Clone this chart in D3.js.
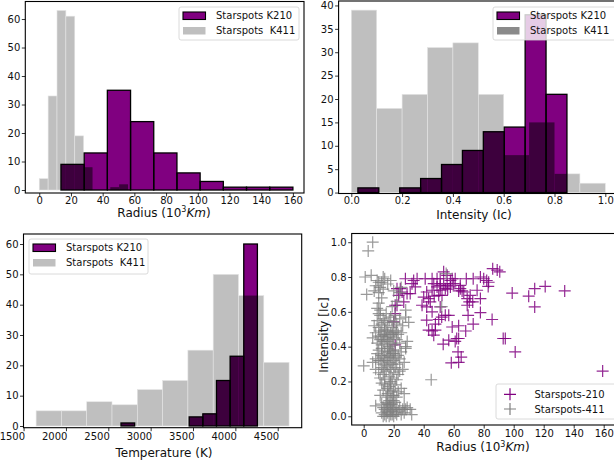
<!DOCTYPE html>
<html><head><meta charset="utf-8">
<script src="https://cdn.jsdelivr.net/npm/d3@7"></script>
<style>
body{margin:0;background:#fff;overflow:hidden}
text{font-family:"DejaVu Sans",sans-serif;fill:#111}
</style>
</head><body>
<svg id="c" width="614" height="463"></svg>
<script>
// ---------------- data ----------------
const k210RadiusRange = [13.7, 160];
const k210RadiusCounts = [9, 13, 35, 24, 13, 6, 3, 1, 1, 1];
const k411RadiusRange = [0, 56];
const k411RadiusCounts = [4, 33, 63, 61, 19, 8, 0, 0, 1, 2];

const k210IntensityRange = [0.026, 0.849];
const k210IntensityCounts = [1, 0, 1, 3, 6, 9, 13, 14, 38, 21];
const k411IntensityRange = [0, 1.0];
const k411IntensityCounts = [39, 18, 21, 31, 32, 21, 8, 15, 4, 2];

const k210TempRange = [2650, 4260];
const k210TempCounts = [1, 0, 0, 0, 0, 3, 4, 15, 23, 60];
const k411TempRange = [1648, 4634];
const k411TempCounts = [5, 5, 8, 7, 12, 15, 25, 50, 43, 21];

const radiusTicks = [0, 20, 40, 60, 80, 100, 120, 140, 160];
const countTicks60 = [0, 10, 20, 30, 40, 50, 60];
const countTicks40 = [0, 5, 10, 15, 20, 25, 30, 35, 40];
const intensityTicks = [0.0, 0.2, 0.4, 0.6, 0.8, 1.0];
const tempTicks = [1500, 2000, 2500, 3000, 3500, 4000, 4500];

const histLegendLabels = ["Starspots K210", "Starspots  K411"];
const scatterLegendLabels = ["Starspots-210", "Starspots-411"];

// scatter points [radius (10^3 km), intensity]
const k210Points = [
 [159.3,0.26],[134,0.72],[121,0.746],[114,0.733],[110,0.69],[114,0.628],[99,0.708],[101,0.37],
 [94.4,0.447],[93,0.447],[90.7,0.83],[89,0.84],[86,0.848],[85.6,0.556],[83,0.746],[82,0.78],
 [80,0.79],[77.8,0.8],[77.8,0.676],[77.8,0.596],[73,0.79],[72.7,0.657],[70.4,0.657],[73,0.53],
 [68.4,0.79],[69.6,0.58],[68,0.49],[69,0.676],[65.6,0.72],[64.4,0.733],[63.3,0.72],[63.3,0.52],
 [62,0.447],[63.3,0.447],[65,0.34],[63.3,0.31],[62.9,0.37],[61,0.79],[59,0.79],[61,0.43],
 [58.4,0.307],[56.7,0.437],[53,0.414],[56.7,0.58],[54.4,0.58],[52,0.57],[50,0.556],[47.8,0.53],
 [45.6,0.49],[46.7,0.466],[47.8,0.495],[43.3,0.495],[53.3,0.83],[55.6,0.81],[51,0.79],[53.3,0.762],
 [55.6,0.752],[57.8,0.743],[51,0.752],[48.9,0.743],[46.7,0.762],[45.6,0.724],[42,0.714],[40,0.685],
 [41,0.79],[45.6,0.79],[43.3,0.676],[44.4,0.657],[38.9,0.638],[42,0.628],[45.6,0.6],[51,0.628],
 [51,0.724],[54.4,0.733],[52.2,0.695],[34.4,0.743],[33.3,0.78],[31,0.705],[28.9,0.705],[32.2,0.762],
 [27.8,0.79],[24.4,0.733],[22.2,0.733],[23.3,0.695],[22.2,0.638],[21,0.638],[21,0.59],[25.6,0.714],
 [26.7,0.657],[20,0.542],[21,0.41],[35.6,0.79],[64.4,0.752],[66.7,0.714],[60,0.762],[69,0.638],
 [50,0.695],[48.9,0.79],[57.8,0.78],[42,0.552],[59,0.513],[83.3,0.77],[75.6,0.724],[71,0.695],
 [47,0.69],[56,0.73]
];
const k411Points = [
 [13,0.00],[14,0.01],[15,0.00],[16,0.02],[17,0.00],[18,0.01],[19,0.03],[20,0.00],[21,0.02],[14,0.04],
 [15,0.03],[16,0.05],[17,0.06],[18,0.04],[19,0.07],[20,0.05],[22,0.04],[23,0.03],[24,0.05],[26,0.04],
 [27,0.02],[28,0.04],[29,0.05],[31,0.04],[32,0.01],[8,0.06],[12,0.02],[13,0.05],[15,0.08],[17,0.09],
 [18,0.07],[21,0.08],[20,0.09],[16,0.07],[12,0.07],[22,0.01],[25,0.01],[27,0.06],[19,0.01],
 [11,0.12],[13,0.15],[14,0.18],[15,0.11],[16,0.13],[17,0.17],[18,0.19],[19,0.12],[20,0.15],[21,0.18],
 [22,0.11],[23,0.14],[25,0.16],[12,0.19],[16,0.16],[18,0.14],[20,0.12],[27,0.13],
 [0,0.29],[45,0.21],[8,0.27],[10,0.25],[11,0.22],[12,0.28],[13,0.24],[14,0.21],[15,0.26],[16,0.29],
 [17,0.23],[18,0.27],[19,0.22],[20,0.25],[21,0.28],[22,0.21],[23,0.24],[24,0.26],[26,0.27],[14,0.27],[18,0.20],
 [6,0.31],[8,0.33],[9,0.36],[10,0.38],[11,0.32],[12,0.35],[13,0.30],[14,0.37],[15,0.33],[16,0.39],
 [17,0.31],[18,0.34],[19,0.36],[20,0.32],[21,0.38],[22,0.30],[23,0.35],[24,0.33],[25,0.37],[27,0.31],
 [28,0.39],[12,0.39],[14,0.32],[16,0.35],[18,0.38],[20,0.36],[13,0.34],[17,0.37],[19,0.30],[21,0.34],[10,0.32],
 [6,0.45],[8,0.48],[9,0.42],[10,0.46],[11,0.49],[12,0.41],[13,0.47],[14,0.44],[15,0.49],[16,0.43],
 [17,0.46],[18,0.48],[19,0.41],[20,0.45],[21,0.49],[22,0.44],[23,0.47],[24,0.42],[25,0.48],[28,0.40],
 [29,0.43],[12,0.46],[14,0.49],[16,0.47],[18,0.42],[20,0.48],[22,0.49],[13,0.43],[15,0.45],[17,0.40],[19,0.47],[11,0.44],
 [7,0.52],[9,0.55],[10,0.51],[11,0.58],[12,0.53],[13,0.56],[14,0.50],[15,0.59],[16,0.52],[17,0.55],
 [18,0.57],[19,0.51],[20,0.54],[21,0.58],[22,0.53],[24,0.56],[26,0.52],[30,0.54],[28,0.57],[10,0.59],[14,0.54],
 [9,0.62],[10,0.65],[11,0.61],[12,0.68],[22,0.66],[28,0.61],[52,0.63],[19,0.63],
 [2,0.70],[7,0.72],[8,0.75],[9,0.78],[10,0.71],[11,0.74],[12,0.77],[13,0.73],[14,0.79],[16,0.76],
 [18,0.78],[20,0.72],[25,0.74],[24,0.71],[10,0.77],
 [1,0.80],[5,0.81],[13,0.80],[55,0.82],
 [3,0.95],[6,1.0]
];

// ---------------- drawing ----------------
const k210Color = "#800080", k411Color = "#bfbfbf", overlapColor = "#3d003d";
const svg = d3.select("#c");
const defs = svg.append("defs");

function styleAxis(g){
  g.select(".domain").remove();
  g.selectAll(".tick line").attr("stroke","#000").attr("stroke-width",0.8);
  g.selectAll(".tick text").attr("font-size",10).attr("fill","#111");
}

function makeBins(counts, range){
  const w = (range[1]-range[0])/counts.length;
  return counts.map((c,i)=>({x0:range[0]+i*w, x1:range[0]+(i+1)*w, c:c}));
}

function frame(p){
  svg.append("rect").attr("x",p.left).attr("y",p.top)
    .attr("width",p.right-p.left).attr("height",p.bottom-p.top)
    .attr("fill","none").attr("stroke","#000").attr("stroke-width",1.1);
}

function xLabel(g, x, y, parts){
  const t = g.append("text").attr("x",x).attr("y",y).attr("text-anchor","middle").attr("font-size",12);
  parts.forEach(pt=>{
    const s = t.append("tspan").text(pt.t);
    if(pt.sup) s.attr("font-size",8).attr("dy",-4.5);
    if(pt.after) s.attr("dy",4.5);
    if(pt.it) s.attr("font-style","italic");
  });
}

function histPanel(p){
  const x = d3.scaleLinear().domain(p.xDomain).range([p.left,p.right]);
  const y = d3.scaleLinear().domain(p.yDomain).range([p.bottom,p.top]);
  const pc = "pc"+p.id, oc = "oc"+p.id;
  defs.append("clipPath").attr("id",pc).append("rect")
    .attr("x",p.left).attr("y",p.top).attr("width",p.right-p.left).attr("height",p.bottom-p.top);
  const b210 = makeBins(p.c210, p.r210), b411 = makeBins(p.c411, p.r411);
  const plot = svg.append("g").attr("clip-path",`url(#${pc})`);
  const rx = d=>x(d.x0), rw = d=>x(d.x1)-x(d.x0), ry = d=>y(d.c), rh = d=>y(0)-y(d.c);
  plot.append("g").selectAll("rect").data(b411).join("rect")
    .attr("x",rx).attr("width",rw).attr("y",ry).attr("height",rh)
    .attr("fill",k411Color).attr("stroke","#e4e4e4").attr("stroke-width",0.6);
  plot.append("g").selectAll("rect").data(b210).join("rect")
    .attr("x",rx).attr("width",rw).attr("y",ry).attr("height",rh)
    .attr("fill",k210Color);
  defs.append("clipPath").attr("id",oc).selectAll("rect").data(b210).join("rect")
    .attr("x",rx).attr("width",rw).attr("y",ry).attr("height",rh);
  plot.append("g").attr("clip-path",`url(#${oc})`).selectAll("rect").data(b411).join("rect")
    .attr("x",rx).attr("width",rw).attr("y",ry).attr("height",rh).attr("fill",overlapColor);
  plot.append("g").selectAll("rect").data(b210).join("rect")
    .attr("x",rx).attr("width",rw).attr("y",ry).attr("height",rh)
    .attr("fill","none").attr("stroke","#000").attr("stroke-width",1.3);
  frame(p);
  const gx = svg.append("g").attr("transform",`translate(0,${p.bottom})`)
    .call(d3.axisBottom(x).tickValues(p.xTicks).tickSize(3.5).tickPadding(p.xPad).tickFormat(p.xFmt));
  styleAxis(gx);
  if(p.xAlignRight) gx.selectAll(".tick text").attr("text-anchor","end").attr("dx",1);
  const gy = svg.append("g").attr("transform",`translate(${p.left},0)`)
    .call(d3.axisLeft(y).tickValues(p.yTicks).tickSize(3.5).tickPadding(1.5));
  styleAxis(gy);
  xLabel(svg, p.xLabelX, p.xLabelY, p.xLabelParts);
  // legend
  const L = p.legend;
  const lg = svg.append("g");
  lg.append("rect").attr("x",L.x).attr("y",L.y).attr("width",L.w).attr("height",L.h).attr("rx",2)
    .attr("fill","#fff").attr("fill-opacity",0.8).attr("stroke","#d0d0d0").attr("stroke-width",0.8);
  const fills = [k210Color, L.k411Patch];
  histLegendLabels.forEach((lab,i)=>{
    const yy = L.y + 8.5 + i*15;
    lg.append("rect").attr("x",L.x+4).attr("y",yy-3.5).attr("width",22.5).attr("height",7.5)
      .attr("fill",fills[i]).attr("stroke",i===0?"#000":"none").attr("stroke-width",1.1);
    lg.append("text").attr("x",L.x+37).attr("y",yy+3.8).attr("font-size",10).style("white-space","pre").text(lab);
  });
}

const radiusLabel = [{t:"Radius (10"},{t:"3",sup:true},{t:"Km",it:true,after:true},{t:")"}];

histPanel({id:1, left:25.3, right:304, top:1.5, bottom:193,
  xDomain:[-8.8,167], yDomain:[-1.05,66.15],
  r210:k210RadiusRange, c210:k210RadiusCounts, r411:k411RadiusRange, c411:k411RadiusCounts,
  xTicks:radiusTicks, yTicks:countTicks60, xFmt:d3.format("d"), xPad:0,
  xLabelX:164, xLabelY:216.5, xLabelParts:radiusLabel,
  legend:{x:179,y:7,w:120,h:33, k411Patch:k411Color}});

histPanel({id:2, left:338.6, right:618, top:1, bottom:193.5,
  xDomain:[-0.05,1.05], yDomain:[-0.2,40.95],
  r210:k210IntensityRange, c210:k210IntensityCounts, r411:k411IntensityRange, c411:k411IntensityCounts,
  xTicks:intensityTicks, yTicks:countTicks40, xFmt:d3.format(".1f"), xPad:0,
  xLabelX:474, xLabelY:219, xLabelParts:[{t:"Intensity (Ic)"}],
  legend:{x:493,y:7,w:126,h:33, k411Patch:"#8a8a8a"}});

histPanel({id:3, left:23.5, right:301.7, top:234, bottom:427.7,
  xDomain:[1499,4783], yDomain:[-0.56,63.3],
  r210:k210TempRange, c210:k210TempCounts, r411:k411TempRange, c411:k411TempCounts,
  xTicks:tempTicks, yTicks:countTicks60, xFmt:d3.format("d"), xAlignRight:true, xPad:2,
  xLabelX:164, xLabelY:457, xLabelParts:[{t:"Temperature (K)"}],
  legend:{x:29,y:239,w:119,h:35, k411Patch:k411Color}});

// ---------------- scatter panel ----------------
(function(){
  const p = {left:351.7, right:615.7, top:233.5, bottom:425};
  const x = d3.scaleLinear().domain([-8,168]).range([p.left,p.right]);
  const y = d3.scaleLinear().domain([-0.05,1.05]).range([p.bottom,p.top]);
  defs.append("clipPath").attr("id","pc4").append("rect")
    .attr("x",p.left).attr("y",p.top).attr("width",p.right-p.left).attr("height",p.bottom-p.top);
  const plot = svg.append("g").attr("clip-path","url(#pc4)");
  const plus = "M-6,0H6M0,-6V6";
  plot.append("g").selectAll("path").data(k210Points).join("path")
    .attr("transform",d=>`translate(${x(d[0])},${y(d[1])})`).attr("d",plus)
    .attr("stroke",k210Color).attr("stroke-width",1.2).attr("stroke-opacity",0.85).attr("fill","none");
  plot.append("g").selectAll("path").data(k411Points).join("path")
    .attr("transform",d=>`translate(${x(d[0])},${y(d[1])})`).attr("d",plus)
    .attr("stroke","#808080").attr("stroke-width",1.2).attr("stroke-opacity",0.8).attr("fill","none");
  frame(p);
  const gx = svg.append("g").attr("transform",`translate(0,${p.bottom})`)
    .call(d3.axisBottom(x).tickValues(radiusTicks).tickSize(3.5).tickPadding(1).tickFormat(d3.format("d")));
  styleAxis(gx);
  const gy = svg.append("g").attr("transform",`translate(${p.left},0)`)
    .call(d3.axisLeft(y).tickValues(intensityTicks).tickSize(3.5).tickPadding(1.5).tickFormat(d3.format(".1f")));
  styleAxis(gy);
  xLabel(svg, 483, 451, radiusLabel);
  svg.append("text").attr("transform","translate(327.5,335) rotate(-90)").attr("text-anchor","middle")
    .attr("font-size",12).text("Intensity [Ic]");
  const lg = svg.append("g");
  lg.append("rect").attr("x",496).attr("y",384).attr("width",122).attr("height",35).attr("rx",2)
    .attr("fill","#fff").attr("fill-opacity",0.8).attr("stroke","#d0d0d0").attr("stroke-width",0.8);
  const cols = [k210Color,"#808080"];
  scatterLegendLabels.forEach((lab,i)=>{
    const yy = 394.3 + i*14.7;
    lg.append("path").attr("transform",`translate(510,${yy})`).attr("d",plus)
      .attr("stroke",cols[i]).attr("stroke-width",1.2).attr("fill","none");
    lg.append("text").attr("x",534.5).attr("y",yy+3.8).attr("font-size",10).text(lab);
  });
})();
</script>
</body></html>
